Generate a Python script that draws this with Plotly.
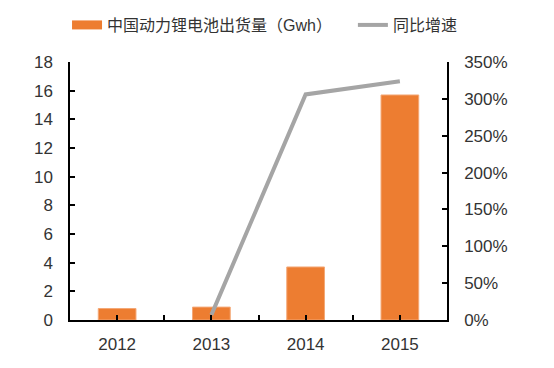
import plotly.graph_objects as go

years = ["2012", "2013", "2014", "2015"]
shipment_gwh = [0.8, 0.9, 3.7, 15.7]
growth_years = ["2013", "2014", "2015"]
growth_pct = [0.07, 3.06, 3.24]

bar_name = "中国动力锂电池出货量（Gwh）"
line_name = "同比增速"
y_ticks = [0, 2, 4, 6, 8, 10, 12, 14, 16, 18]
y2_ticks = [0, 0.5, 1.0, 1.5, 2.0, 2.5, 3.0, 3.5]

ORANGE = "#ED7D31"
GRAY = "#A5A5A5"
TXT = "#333333"
FONT = "Liberation Sans, Noto Sans CJK SC, sans-serif"

fig = go.Figure()
fig.add_trace(go.Bar(x=years, y=shipment_gwh, marker=dict(color=ORANGE, line=dict(color="#F4A877", width=1)),
                     width=0.4, showlegend=False, xaxis="x", yaxis="y"))
# legend proxy for the bar series
fig.add_trace(go.Scatter(x=[None], y=[None], mode="lines", name=bar_name, legend="legend",
                         line=dict(color=ORANGE, width=9), xaxis="x", yaxis="y"))
fig.add_trace(go.Scatter(x=growth_years, y=growth_pct, mode="lines", name=line_name, legend="legend2",
                         line=dict(color=GRAY, width=4), xaxis="x2", yaxis="y2"))

axis_common = dict(showline=True, linecolor="black", linewidth=1.5, ticks="inside",
                   ticklen=5, tickcolor="black", tickwidth=1.5, showgrid=False, zeroline=False,
                   automargin=False, tickfont=dict(size=17, color=TXT, family=FONT))

leg_common = dict(orientation="h", xref="container", yref="container", xanchor="left",
                  y=0.932, yanchor="middle", font=dict(size=16, color=TXT, family=FONT),
                  itemwidth=30, bgcolor="rgba(0,0,0,0)")

fig.update_layout(
    width=554, height=368,
    margin=dict(l=70, r=107, t=62, b=48, autoexpand=False),
    plot_bgcolor="white", paper_bgcolor="white",
    font=dict(family=FONT, color=TXT, size=16),
    xaxis=dict(type="category", categoryarray=years, range=[-0.5, 3.5], tickson="labels",
               **axis_common, ticklabelstandoff=8),
    xaxis2=dict(type="category", categoryarray=years, range=[-0.5, 3.5], overlaying="x",
                tickson="boundaries", showticklabels=False, showline=False, ticks="inside",
                ticklen=5, tickcolor="black", tickwidth=1.5, showgrid=False, zeroline=False,
                anchor="y"),
    yaxis=dict(range=[0, 18], tickvals=y_ticks, **axis_common, ticklabelstandoff=12),
    yaxis2=dict(range=[0, 3.5], tickvals=y2_ticks, tickformat=".0%", overlaying="y",
                side="right", anchor="x2", **axis_common, ticklabelstandoff=12),
    legend=dict(x=0.121, **leg_common),
    legend2=dict(x=0.637, **leg_common),
)

fig.write_html("out.html", config={"displayModeBar": False},
               post_script="document.body.style.margin='0';")
